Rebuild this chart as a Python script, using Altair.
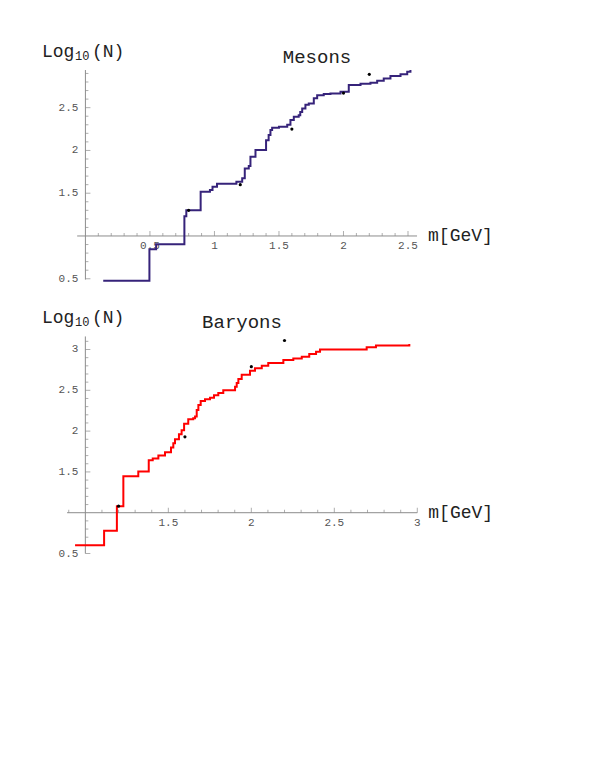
import altair as alt
import pandas as pd

# ---------------- data ----------------
meson_mass = [0.138, 0.496, 0.548, 0.767, 0.782, 0.893, 0.965, 0.985, 1.02, 1.17,
              1.215, 1.235, 1.266, 1.279, 1.318, 1.40, 1.42, 1.434, 1.447, 1.50,
              1.564, 1.589, 1.615, 1.653, 1.665, 1.680, 1.705, 1.731, 1.770, 1.796,
              1.847, 1.899, 1.977, 2.041, 2.132, 2.209, 2.261, 2.312, 2.364, 2.442,
              2.494, 2.519]
meson_log = [0.477, 0.845, 0.903, 1.23, 1.30, 1.517, 1.537, 1.576, 1.612, 1.634,
             1.674, 1.79, 1.818, 1.926, 2.005, 2.12, 2.18, 2.24, 2.265, 2.277,
             2.30, 2.355, 2.395, 2.41, 2.45, 2.49, 2.535, 2.55, 2.61, 2.645,
             2.66, 2.667, 2.685, 2.764, 2.78, 2.79, 2.815, 2.84, 2.87, 2.89,
             2.92, 2.94]

baryon_mass = [0.938, 1.113, 1.19, 1.229, 1.319, 1.382, 1.406, 1.44, 1.48, 1.516,
               1.53, 1.54, 1.564, 1.58, 1.595, 1.62, 1.65, 1.661, 1.671, 1.681,
               1.695, 1.721, 1.751, 1.775, 1.801, 1.831, 1.902, 1.912, 1.922, 1.942,
               1.992, 2.022, 2.063, 2.102, 2.193, 2.253, 2.304, 2.349, 2.39, 2.414,
               2.695, 2.751, 2.952]
baryon_log = [0.60, 0.778, 1.079, 1.447, 1.505, 1.643, 1.663, 1.70, 1.74, 1.80,
              1.85, 1.90, 1.96, 2.01, 2.09, 2.145, 2.157, 2.18, 2.26, 2.32,
              2.37, 2.39, 2.41, 2.44, 2.466, 2.50, 2.544, 2.59, 2.64, 2.69,
              2.74, 2.77, 2.80, 2.835, 2.87, 2.89, 2.91, 2.945, 2.973, 3.00,
              3.027, 3.05, 3.067]

meson_dot_mass = [0.8, 1.2, 1.6, 2.0, 2.2]
meson_dot_log = [1.30, 1.60, 2.25, 2.67, 2.89]
baryon_dot_mass = [1.2, 1.6, 2.0, 2.2]
baryon_dot_log = [1.08, 1.93, 2.79, 3.11]

meson_xticks = [0.5, 1, 1.5, 2, 2.5]
meson_xlabels = ["0.5", "1", "1.5", "2", "2.5"]
meson_yticks = [0.5, 1.5, 2, 2.5]
meson_ylabels = ["0.5", "1.5", "2", "2.5"]
baryon_xticks = [1.5, 2, 2.5, 3]
baryon_xlabels = ["1.5", "2", "2.5", "3"]
baryon_yticks = [0.5, 1.5, 2, 2.5, 3]
baryon_ylabels = ["0.5", "1.5", "2", "2.5", "3"]

FONT = "Liberation Mono"
AXIS_COLOR = "#8c8c8c"
LABEL_COLOR = "#555555"
W = 560


def minor(lo, hi, majors):
    out = []
    i = int(round(lo * 10))
    while i <= int(round(hi * 10)):
        v = round(i / 10, 1)
        if all(abs(v - m) > 1e-6 for m in majors):
            out.append(v)
        i += 1
    return out


def panel(mass, logn, color, dot_m, dot_v, xdom, ydom, H,
          x_origin, xaxis_ext, yaxis_ext, xticks, xlabels, yticks, ylabels,
          xminor, yminor, title, title_x, title_y, log_x, log_y):
    xs = alt.Scale(domain=xdom, nice=False, zero=False)
    ys = alt.Scale(domain=ydom, nice=False, zero=False)

    def X(f):
        return alt.X(f, type="quantitative", scale=xs, axis=None)

    def Y(f):
        return alt.Y(f, type="quantitative", scale=ys, axis=None)

    # axis lines
    xline = alt.Chart(pd.DataFrame({"a": [xaxis_ext[0]], "b": [xaxis_ext[1]], "v": [1.0]})).mark_rule(
        color=AXIS_COLOR, strokeWidth=1).encode(x=X("a"), x2="b", y=Y("v"))
    yline = alt.Chart(pd.DataFrame({"m": [x_origin], "a": [yaxis_ext[0]], "b": [yaxis_ext[1]]})).mark_rule(
        color=AXIS_COLOR, strokeWidth=1).encode(x=X("m"), y=Y("a"), y2="b")

    # ticks
    xt_major = alt.Chart(pd.DataFrame({"m": xticks, "v": [1.0] * len(xticks)})).mark_tick(
        orient="vertical", color=AXIS_COLOR, size=5, thickness=1, yOffset=-2.5).encode(x=X("m"), y=Y("v"))
    xt_minor = alt.Chart(pd.DataFrame({"m": xminor, "v": [1.0] * len(xminor)})).mark_tick(
        orient="vertical", color=AXIS_COLOR, size=3, thickness=1, yOffset=-1.5).encode(x=X("m"), y=Y("v"))
    yt_major = alt.Chart(pd.DataFrame({"m": [x_origin] * len(yticks), "v": yticks})).mark_tick(
        orient="horizontal", color=AXIS_COLOR, size=5, thickness=1, xOffset=2.5).encode(x=X("m"), y=Y("v"))
    yt_minor = alt.Chart(pd.DataFrame({"m": [x_origin] * len(yminor), "v": yminor})).mark_tick(
        orient="horizontal", color=AXIS_COLOR, size=3, thickness=1, xOffset=1.5).encode(x=X("m"), y=Y("v"))

    # tick labels
    xl = alt.Chart(pd.DataFrame({"m": xticks, "v": [1.0] * len(xticks), "t": xlabels})).mark_text(
        font=FONT, fontSize=11, color=LABEL_COLOR, baseline="top", dy=4).encode(x=X("m"), y=Y("v"), text="t")
    yl = alt.Chart(pd.DataFrame({"m": [x_origin] * len(yticks), "v": yticks, "t": ylabels})).mark_text(
        font=FONT, fontSize=11, color=LABEL_COLOR, align="right", baseline="middle", dx=-7).encode(
        x=X("m"), y=Y("v"), text="t")

    # axis label m[GeV]
    ml = alt.Chart(pd.DataFrame({"m": [xaxis_ext[1]], "v": [1.0], "t": ["m[GeV]"]})).mark_text(
        font=FONT, fontSize=18, color="#222222", align="left", baseline="middle", dx=11).encode(
        x=X("m"), y=Y("v"), text="t")

    # curve and dots
    curve = alt.Chart(pd.DataFrame({"m": mass, "v": logn})).mark_line(
        interpolate="step-after", color=color, strokeWidth=2).encode(x=X("m"), y=Y("v"))
    dots = alt.Chart(pd.DataFrame({"m": dot_m, "v": dot_v})).mark_circle(
        color="black", size=10, opacity=1).encode(x=X("m"), y=Y("v"))

    # titles
    base = alt.Chart(pd.DataFrame({"d": [0]}))
    ttl = base.mark_text(font=FONT, fontSize=19, color="#222222", align="center",
                         baseline="alphabetic", text=title).encode(x=alt.value(title_x), y=alt.value(title_y))
    lg = base.mark_text(font=FONT, fontSize=18, color="#222222", align="left",
                        baseline="alphabetic", text="Log").encode(x=alt.value(log_x), y=alt.value(log_y))
    sub = base.mark_text(font=FONT, fontSize=12, color="#222222", align="left",
                         baseline="alphabetic", text="10").encode(x=alt.value(log_x + 33), y=alt.value(log_y + 3))
    nn = base.mark_text(font=FONT, fontSize=18, color="#222222", align="left",
                        baseline="alphabetic", text="(N)").encode(x=alt.value(log_x + 50), y=alt.value(log_y))

    return alt.layer(xline, yline, xt_major, xt_minor, yt_major, yt_minor, xl, yl, ml,
                     curve, dots, ttl, lg, sub, nn).properties(width=W, height=H)


mesons = panel(meson_mass, meson_log, "#36237a", meson_dot_mass, meson_dot_log,
               xdom=[-0.6, 3.74], ydom=[0.275, 3.665], H=290, x_origin=0.0,
               xaxis_ext=[-0.064, 2.57], yaxis_ext=[0.49, 2.94],
               xticks=meson_xticks, xlabels=meson_xlabels,
               yticks=meson_yticks, ylabels=meson_ylabels,
               xminor=minor(0.1, 2.5, meson_xticks), yminor=minor(0.5, 2.9, meson_yticks + [1.0]),
               title="Mesons", title_x=309, title_y=55, log_x=34, log_y=49)

baryons = panel(baryon_mass, baryon_log, "#ff0000", baryon_dot_mass, baryon_dot_log,
                xdom=[0.534, 3.908], ydom=[-0.045, 3.631], H=300, x_origin=1.0,
                xaxis_ext=[0.89, 3.0], yaxis_ext=[0.5, 3.16],
                xticks=baryon_xticks, xlabels=baryon_xlabels,
                yticks=baryon_yticks, ylabels=baryon_ylabels,
                xminor=minor(0.9, 2.9, baryon_xticks + [1.0]), yminor=minor(0.6, 3.1, baryon_yticks + [1.0]),
                title="Baryons", title_x=234, title_y=30, log_x=34, log_y=25)

chart = alt.vconcat(mesons, baryons, spacing=0).properties(padding=0).configure_view(stroke=None)

chart.save("out.html", embed_options={"renderer": "svg", "actions": False})
